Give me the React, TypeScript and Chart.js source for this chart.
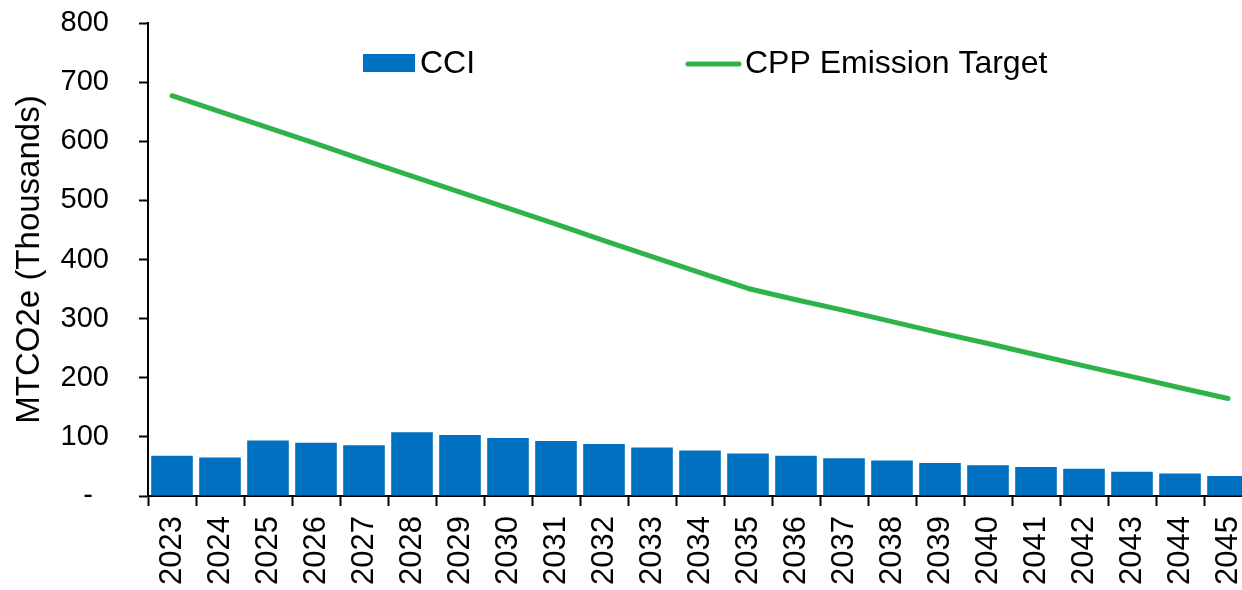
import React, { useEffect, useRef } from "react";
import { Chart, registerables } from "chart.js";

Chart.register(...registerables);

const years = [
  "2023", "2024", "2025", "2026", "2027", "2028", "2029", "2030", "2031", "2032", "2033", "2034",
  "2035", "2036", "2037", "2038", "2039", "2040", "2041", "2042", "2043", "2044", "2045",
];
const cciValues = [68, 65, 94, 90, 86, 108, 103, 98, 93, 88, 82, 77, 72, 68, 64, 60, 56, 52, 49, 46, 41, 38, 34];
const cppTarget = [677, 650, 623, 596, 568, 541, 514, 487, 460, 432, 405, 378, 351, 332, 314, 295, 276, 258, 239, 220, 202, 183, 165];
const yTicks = [0, 100, 200, 300, 400, 500, 600, 700, 800];
const cciLabel = "CCI";
const cppLabel = "CPP Emission Target";
const yTitle = "MTCO2e (Thousands)";

const BLUE = "#0070C0";
const GREEN = "#2EB34B";
const FONT = '"Liberation Sans", Arial, sans-serif';

const legendPlugin = {
  id: "customLegend",
  afterDraw(chart: any) {
    const ctx = chart.ctx;
    ctx.save();
    ctx.font = `32px ${FONT}`;
    ctx.textBaseline = "middle";
    const cy = 63;
    ctx.fillStyle = BLUE;
    ctx.fillRect(363, cy - 9, 52, 18);
    ctx.fillStyle = "#000";
    ctx.fillText(chart.data.datasets[1].label, 420, cy + 1);
    ctx.strokeStyle = GREEN;
    ctx.lineWidth = 5;
    ctx.lineCap = "round";
    ctx.beginPath();
    ctx.moveTo(688, cy + 1);
    ctx.lineTo(739, cy + 1);
    ctx.stroke();
    ctx.fillText(chart.data.datasets[0].label, 745, cy + 1);
    ctx.restore();
  },
};

export default function App() {
  const canvasRef = useRef<HTMLCanvasElement | null>(null);

  useEffect(() => {
    if (!canvasRef.current) return;
    const chart = new Chart(canvasRef.current, {
      type: "bar",
      data: {
        labels: years,
        datasets: [
          {
            type: "line",
            label: cppLabel,
            data: cppTarget,
            borderColor: GREEN,
            backgroundColor: GREEN,
            borderWidth: 5,
            pointRadius: 0,
            borderCapStyle: "round",
            borderJoinStyle: "round",
            tension: 0,
            order: 0,
          } as any,
          {
            type: "bar",
            label: cciLabel,
            data: cciValues,
            backgroundColor: BLUE,
            borderWidth: 0,
            categoryPercentage: 1,
            barPercentage: 0.867,
            order: 1,
          } as any,
        ],
      },
      options: {
        animation: false,
        responsive: true,
        maintainAspectRatio: false,
        layout: { padding: { top: 23, left: 0, right: 0, bottom: 0 } },
        plugins: {
          legend: { display: false },
          tooltip: { enabled: false },
        },
        scales: {
          x: {
            offset: true,
            grid: {
              offset: true,
              drawOnChartArea: false,
              drawTicks: true,
              tickLength: 10,
              tickWidth: 2,
              tickColor: "#000",
            },
            border: { display: true, color: "#000", width: 2 },
            ticks: {
              color: "#000",
              font: { family: FONT, size: 31 },
              minRotation: 90,
              maxRotation: 90,
              autoSkip: false,
              padding: 10,
            },
            afterFit(scale: any) {
              scale.height = 94;
              scale.paddingLeft = 0;
              scale.paddingRight = 0;
            },
          },
          y: {
            min: 0,
            max: 800,
            afterBuildTicks(scale: any) {
              scale.ticks = yTicks.map((v) => ({ value: v }));
            },
            grid: {
              drawOnChartArea: false,
              drawTicks: true,
              tickLength: 9,
              tickWidth: 2,
              tickColor: "#000",
            },
            border: { display: true, color: "#000", width: 2 },
            ticks: {
              color: "#000",
              font: { family: FONT, size: 29 },
              padding: 30,
              callback: (v: any) => (Number(v) === 0 ? "-  " : String(v)),
            },
            title: {
              display: true,
              text: yTitle,
              color: "#000",
              font: { family: FONT, size: 33 },
              padding: { top: 10, bottom: 0 },
            },
            afterFit(scale: any) {
              scale.width = 148;
              scale.paddingTop = 0;
              scale.paddingBottom = 0;
            },
          },
        },
      },
      plugins: [legendPlugin],
    });
    return () => chart.destroy();
  }, []);

  return (
    <div
      style={{
        position: "fixed",
        left: 0,
        top: 0,
        width: 1242,
        height: 590,
        overflow: "hidden",
        background: "#fff",
      }}
    >
      <div style={{ position: "relative", width: 1252, height: 590 }}>
        <canvas ref={canvasRef} />
      </div>
    </div>
  );
}
